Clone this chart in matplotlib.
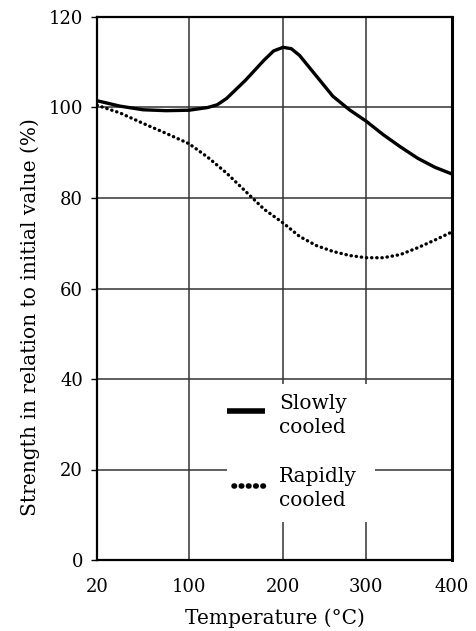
import numpy as np
import matplotlib
matplotlib.use("Agg")
import matplotlib.pyplot as plt
from matplotlib.patches import Rectangle

# the x axis in the source is drawn with nearly (not exactly) even tick gaps
tick_temps = [20, 100, 200, 300, 400]
tick_pos = [0, 92, 186, 269, 355]
y_ticks = [0, 20, 40, 60, 80, 100, 120]

temps = [20, 40, 60, 80, 100, 120, 130, 140, 160, 180, 190, 200, 210, 220,
         240, 260, 280, 300, 320, 340, 360, 380, 400]
slowly = [101.5, 100.3, 99.5, 99.3, 99.4, 100.0, 100.6, 102.0, 106.0, 110.5,
          112.5, 113.3, 113.0, 111.5, 107.0, 102.5, 99.5, 97.0, 94.0, 91.3,
          88.8, 86.8, 85.3]

temps_r = [20, 40, 60, 80, 100, 120, 140, 160, 180, 200, 220, 240, 260, 280,
           300, 320, 340, 360, 380, 400]
rapidly = [100.5, 98.8, 96.5, 94.3, 92.0, 89.0, 85.5, 81.5, 77.5, 74.5, 71.5,
           69.5, 68.2, 67.3, 66.8, 66.8, 67.5, 69.0, 70.7, 72.5]

labels = ['Slowly\ncooled', 'Rapidly\ncooled']

plt.rcParams['font.family'] = ['DejaVu Serif']

fig = plt.figure(figsize=(4.77, 6.31), dpi=100)
ax = fig.add_axes([97/477, 71/631, 355/477, 543/631])

fwd = lambda x: np.interp(x, tick_temps, tick_pos)
inv = lambda p: np.interp(p, tick_pos, tick_temps)
ax.set_xscale('function', functions=(fwd, inv))

ax.plot(temps, slowly, color='black', lw=2.4, solid_capstyle='round', zorder=3)
ax.plot(temps_r, rapidly, color='black', lw=2.4, linestyle=(0, (0.1, 1.45)),
        dash_capstyle='round', zorder=3)

ax.set_xlim(20, 400)
ax.set_ylim(0, 120)
ax.set_xticks(tick_temps)
ax.set_xticklabels([str(t) for t in tick_temps])
ax.set_yticks(y_ticks)
ax.grid(True, color='#333333', lw=1.1)
ax.set_axisbelow(True)
ax.tick_params(axis='x', length=0, pad=13, labelsize=13)
ax.tick_params(axis='y', length=4, width=1, pad=6, labelsize=13)
for s in ax.spines.values():
    s.set_linewidth(1.6)
ax.spines['right'].set_linewidth(2.2)

ax.set_xlabel('Temperature (°C)', fontsize=14.5, labelpad=9)
ax.set_ylabel('Strength in relation to initial value (%)', fontsize=14.5)
ax.yaxis.set_label_coords(-0.16, 0.447)

# legend box drawn by hand: handle sits on the first text line
tr = ax.transAxes
ax.add_patch(Rectangle((0.366, 0.070), 0.417, 0.255, transform=tr,
                       facecolor='white', edgecolor='none', zorder=2))
ax.plot([0.366, 0.473], [0.274, 0.274], transform=tr, color='black', lw=4,
        solid_capstyle='butt', zorder=4)
ax.plot([0.385, 0.473], [0.136, 0.136], transform=tr, color='black', lw=4,
        linestyle=(0, (0.1, 1.2)), dash_capstyle='round', zorder=4)
ax.text(0.513, 0.306, labels[0], transform=tr, ha='left', va='top',
        fontsize=14.5, linespacing=1.35, zorder=4)
ax.text(0.513, 0.172, labels[1], transform=tr, ha='left', va='top',
        fontsize=14.5, linespacing=1.35, zorder=4)

fig.savefig('out.png', dpi=100)
